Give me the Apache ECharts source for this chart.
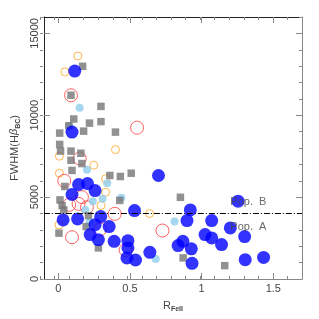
<!DOCTYPE html>
<html><head><meta charset="utf-8">
<script src="https://cdn.jsdelivr.net/npm/echarts@6/dist/echarts.min.js"></script>
<style>html,body{margin:0;padding:0;background:#fff}#c{width:319px;height:319px}</style>
</head><body><div id="c"></div>
<script>
const xMajor = [0, 0.5, 1, 1.5];
const yMajor = [0, 5000, 10000, 15000];
const popLine = 4000;
const popLabels = [{name: 'Pop.  B', value: [1.2, 4690]}, {name: 'Pop.  A', value: [1.2, 3160]}];

const orangeOpen = [[0.137,13620],[0.046,12650],[0.399,7900],[0.008,7500],[0.008,6460],[0.248,6950],[0.33,6120],[0.33,5300],[0.298,4490],[0.637,4000],[0.005,3300]];
const redOpen = [[0.089,11220],[0.55,9240],[0.15,7360],[0.042,6000],[0.165,5000],[0.076,4530],[0.142,4590],[0.2,4380],[0.096,2550],[0.394,3980],[0.47,1770],[0.727,2960],[0.29,3020]];
const lightBlue = [[0.149,10460],[0.078,9320],[0.2,6670],[0.342,5850],[0.241,4750],[0.309,4900],[0.44,4960],[0.188,4220],[0.218,3460],[0.68,1220],[0.811,3510]];
const graySq = [[0.17,12990],[0.089,11220],[0.298,10540],[0.108,9770],[0.074,9360],[0.218,9520],[0.298,9610],[0.177,9030],[0.01,8910],[0.399,8970],[0.01,8220],[0.016,7810],[0.089,7810],[0.158,7680],[0.089,7250],[0.165,7050],[0.096,6630],[0.36,6320],[0.433,6260],[0.509,6460],[0.046,5650],[0.012,4830],[0.027,4490],[0.039,4220],[0.211,3870],[0.195,3200],[0.005,2800],[0.28,1900],[0.429,4800],[0.852,4990],[0.871,1290],[1.161,815]];
const blueBig = [[0.115,12700],[0.096,8970],[0.096,5160],[0.142,5770],[0.204,5830],[0.257,5400],[0.034,3610],[0.135,3670],[0.296,3810],[0.257,3320],[0.355,3200],[0.223,2710],[0.28,2400],[0.39,2300],[0.486,2340],[0.486,1900],[0.479,1285],[0.539,1160],[0.532,4180],[0.639,1630],[0.699,6320],[0.921,4220],[0.898,3570],[1.07,3570],[1.254,4750],[1.2,3120],[1.3,2590],[1.024,2710],[1.07,2510],[1.139,2100],[0.869,2300],[0.836,2040],[0.928,1840],[0.933,955],[1.304,1180],[1.432,1320]];

const FONT = '"Liberation Sans", Arial, sans-serif';
const gridRect = {left: 40, right: 17, top: 17, bottom: 40};
const XMIN = -0.1, XMAX = 1.7, YMIN = 0, YMAX = 16000;
const plain = v => String(v);

function majorX(pos, grid, lineColor, showLabel) {
  return {
    type: 'value', gridIndex: grid, position: pos, min: XMIN, max: XMAX,
    axisLine: {show: true, onZero: false, lineStyle: {color: lineColor, width: 1}},
    axisTick: {show: true, inside: true, length: 6, customValues: xMajor, lineStyle: {color: '#888'}},
    axisLabel: {show: showLabel, customValues: xMajor, formatter: plain, color: '#444', fontSize: 11, fontFamily: FONT, margin: 4},
    splitLine: {show: false}
  };
}
function minorX(pos, grid) {
  return {
    type: 'value', gridIndex: grid, position: pos, min: XMIN, max: XMAX, interval: 0.1,
    axisLine: {show: false, onZero: false},
    axisTick: {show: true, inside: true, length: 3, lineStyle: {color: '#888'}},
    axisLabel: {show: false}, splitLine: {show: false}
  };
}
function majorY(pos, grid, lineColor, showLabel) {
  return {
    type: 'value', gridIndex: grid, position: pos, min: YMIN, max: YMAX,
    axisLine: {show: true, onZero: false, lineStyle: {color: lineColor, width: 1}},
    axisTick: {show: true, inside: true, length: 6, customValues: yMajor, lineStyle: {color: '#888'}},
    axisLabel: {show: showLabel, customValues: yMajor, formatter: plain, rotate: 90, color: '#444', fontSize: 11, fontFamily: FONT, margin: 3},
    splitLine: {show: false}
  };
}
function minorY(pos, grid) {
  return {
    type: 'value', gridIndex: grid, position: pos, min: YMIN, max: YMAX, interval: 1000,
    axisLine: {show: false, onZero: false},
    axisTick: {show: true, inside: true, length: 3, lineStyle: {color: '#888'}},
    axisLabel: {show: false}, splitLine: {show: false}
  };
}

const xb = majorX('bottom', 0, '#888', true);
xb.name = 'R{s|FeII}';
xb.nameLocation = 'middle';
xb.nameGap = 19;
xb.nameTextStyle = {color: '#444', fontSize: 11, fontFamily: FONT, lineHeight: 14,
  rich: {s: {fontSize: 7, fontWeight: 'bold', color: '#444', fontFamily: FONT, verticalAlign: 'bottom', lineHeight: 9}}};
const yl = majorY('left', 0, '#222', true);
yl.name = 'FWHM(H{b|β}{s|BC})';
yl.nameLocation = 'middle';
yl.nameRotate = 90;
yl.nameGap = 12;
yl.nameTextStyle = {color: '#444', fontSize: 11, fontFamily: FONT, lineHeight: 14,
  rich: {b: {fontSize: 11, fontStyle: 'italic', color: '#444', fontFamily: FONT, verticalAlign: 'top', lineHeight: 12},
         s: {fontSize: 7, fontWeight: 'bold', color: '#444', fontFamily: FONT, verticalAlign: 'bottom', lineHeight: 9}}};

const option = {
  animation: false,
  backgroundColor: '#fff',
  grid: [Object.assign({}, gridRect), Object.assign({}, gridRect)],
  xAxis: [xb, majorX('top', 0, '#222', false), minorX('bottom', 1), minorX('top', 1)],
  yAxis: [yl, majorY('right', 0, '#888', false), minorY('left', 1), minorY('right', 1)],
  series: [
    {type: 'scatter', xAxisIndex: 0, yAxisIndex: 0, data: orangeOpen, symbol: 'circle', symbolSize: 8,
     itemStyle: {color: 'rgba(0,0,0,0)', borderColor: '#ffa520', borderWidth: 1}, emphasis: {disabled: true}, silent: true},
    {type: 'scatter', xAxisIndex: 0, yAxisIndex: 0, data: redOpen, symbol: 'circle', symbolSize: 13,
     itemStyle: {color: 'rgba(0,0,0,0)', borderColor: '#ff3b3b', borderWidth: 1}, emphasis: {disabled: true}, silent: true},
    {type: 'scatter', xAxisIndex: 0, yAxisIndex: 0, data: lightBlue, symbol: 'circle', symbolSize: 8,
     itemStyle: {color: '#8fcdee'}, emphasis: {disabled: true}, silent: true},
    {type: 'scatter', xAxisIndex: 0, yAxisIndex: 0, data: graySq, symbol: 'rect', symbolSize: 7.5,
     itemStyle: {color: '#767676'}, emphasis: {disabled: true}, silent: true},
    {type: 'scatter', xAxisIndex: 0, yAxisIndex: 0, data: blueBig, symbol: 'circle', symbolSize: 13,
     itemStyle: {color: '#0000ff'}, emphasis: {disabled: true}, silent: true},
    {type: 'scatter', xAxisIndex: 0, yAxisIndex: 0, data: [], silent: true,
     markLine: {silent: true, symbol: ['none', 'none'], label: {show: false},
       lineStyle: {color: '#000', width: 1, type: [6, 2, 1, 2]}, data: [{yAxis: popLine}]}},
    {type: 'scatter', xAxisIndex: 0, yAxisIndex: 0, data: popLabels, symbolSize: 0, silent: true,
     label: {show: true, position: 'right', distance: 0, formatter: '{b}', color: '#444', fontSize: 11, fontFamily: FONT}}
  ]
};
echarts.init(document.getElementById('c'), null, {renderer: 'canvas'}).setOption(option);
</script></body></html>
